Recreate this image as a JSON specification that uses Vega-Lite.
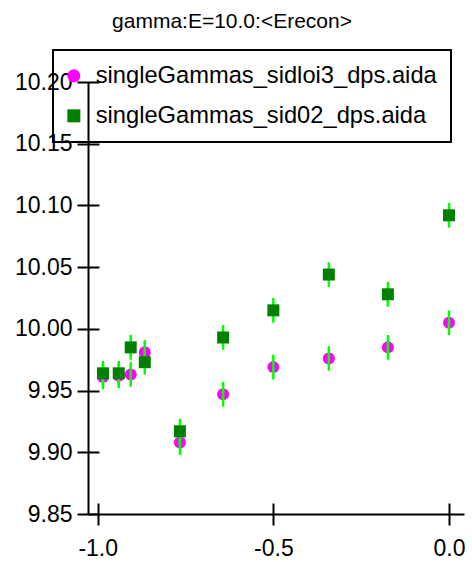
{
  "$schema": "https://vega.github.io/schema/vega-lite/v6.json",
  "width": 376,
  "height": 432,
  "autosize": "none",
  "padding": {"left": 88, "top": 82, "right": 8, "bottom": 48},
  "title": {
    "text": "gamma:E=10.0:<Erecon>",
    "fontSize": 21,
    "fontWeight": "normal",
    "font": "Liberation Sans",
    "color": "black",
    "anchor": "middle",
    "frame": "group",
    "dx": -44,
    "offset": 17
  },
  "data": {
    "values": [
      {"cosTheta": -0.985, "Erecon": 9.961, "err": 0.010, "file": "singleGammas_sidloi3_dps.aida"},
      {"cosTheta": -0.940, "Erecon": 9.962, "err": 0.010, "file": "singleGammas_sidloi3_dps.aida"},
      {"cosTheta": -0.906, "Erecon": 9.963, "err": 0.010, "file": "singleGammas_sidloi3_dps.aida"},
      {"cosTheta": -0.866, "Erecon": 9.981, "err": 0.010, "file": "singleGammas_sidloi3_dps.aida"},
      {"cosTheta": -0.766, "Erecon": 9.908, "err": 0.010, "file": "singleGammas_sidloi3_dps.aida"},
      {"cosTheta": -0.643, "Erecon": 9.947, "err": 0.010, "file": "singleGammas_sidloi3_dps.aida"},
      {"cosTheta": -0.500, "Erecon": 9.969, "err": 0.010, "file": "singleGammas_sidloi3_dps.aida"},
      {"cosTheta": -0.342, "Erecon": 9.976, "err": 0.010, "file": "singleGammas_sidloi3_dps.aida"},
      {"cosTheta": -0.174, "Erecon": 9.985, "err": 0.010, "file": "singleGammas_sidloi3_dps.aida"},
      {"cosTheta": 0.000, "Erecon": 10.005, "err": 0.010, "file": "singleGammas_sidloi3_dps.aida"},
      {"cosTheta": -0.985, "Erecon": 9.964, "err": 0.010, "file": "singleGammas_sid02_dps.aida"},
      {"cosTheta": -0.940, "Erecon": 9.964, "err": 0.010, "file": "singleGammas_sid02_dps.aida"},
      {"cosTheta": -0.906, "Erecon": 9.985, "err": 0.010, "file": "singleGammas_sid02_dps.aida"},
      {"cosTheta": -0.866, "Erecon": 9.973, "err": 0.010, "file": "singleGammas_sid02_dps.aida"},
      {"cosTheta": -0.766, "Erecon": 9.917, "err": 0.010, "file": "singleGammas_sid02_dps.aida"},
      {"cosTheta": -0.643, "Erecon": 9.993, "err": 0.010, "file": "singleGammas_sid02_dps.aida"},
      {"cosTheta": -0.500, "Erecon": 10.015, "err": 0.010, "file": "singleGammas_sid02_dps.aida"},
      {"cosTheta": -0.342, "Erecon": 10.044, "err": 0.010, "file": "singleGammas_sid02_dps.aida"},
      {"cosTheta": -0.174, "Erecon": 10.028, "err": 0.010, "file": "singleGammas_sid02_dps.aida"},
      {"cosTheta": 0.000, "Erecon": 10.092, "err": 0.010, "file": "singleGammas_sid02_dps.aida"}
    ]
  },
  "layer": [
    {
      "transform": [{"filter": "datum.file === 'singleGammas_sidloi3_dps.aida'"}],
      "mark": {"type": "point", "filled": true, "opacity": 1, "strokeWidth": 0},
      "encoding": {
        "x": {
          "field": "cosTheta", "type": "quantitative",
          "scale": {"domain": [-1.0276, 0.0427], "nice": false, "zero": false},
          "axis": {"orient": "bottom", "domain": true, "domainColor": "black", "domainWidth": 2, "ticks": false, "labels": false, "grid": false, "title": null}
        },
        "y": {
          "field": "Erecon", "type": "quantitative",
          "scale": {"domain": [9.85, 10.2], "nice": false, "zero": false},
          "axis": {"orient": "left", "domain": true, "domainColor": "black", "domainWidth": 2, "ticks": false, "labels": false, "grid": false, "title": null}
        },
        "color": {
          "field": "file", "type": "nominal",
          "scale": {"domain": ["singleGammas_sidloi3_dps.aida", "singleGammas_sid02_dps.aida"], "range": ["#ff00ff", "#008000"]},
          "legend": {
            "title": null,
            "orient": "none",
            "legendX": -35,
            "legendY": -32,
            "strokeColor": "black",
            "padding": 14,
            "labelFont": "Liberation Sans",
            "labelFontSize": 23.7,
            "labelColor": "black",
            "labelOffset": 10,
            "labelLimit": 500,
            "rowPadding": 15,
            "symbolSize": 169,
            "symbolOffset": -5,
            "symbolStrokeWidth": 0,
            "labelExpr": "datum.label + '\u00a0\u00a0\u00a0\u00a0'"
          }
        },
        "shape": {
          "field": "file", "type": "nominal",
          "scale": {"domain": ["singleGammas_sidloi3_dps.aida", "singleGammas_sid02_dps.aida"], "range": ["circle", "square"]},
          "legend": {"title": null}
        },
        "size": {"value": 144}
      }
    },
    {
      "mark": {"type": "errorbar", "ticks": false, "color": "#00ff00", "thickness": 2.5},
      "encoding": {
        "x": {"field": "cosTheta", "type": "quantitative", "axis": null},
        "y": {"field": "Erecon", "type": "quantitative", "axis": null},
        "yError": {"field": "err"}
      }
    },
    {
      "transform": [{"filter": "datum.file === 'singleGammas_sid02_dps.aida'"}],
      "mark": {"type": "point", "filled": true, "opacity": 1, "strokeWidth": 0},
      "encoding": {
        "x": {
          "field": "cosTheta", "type": "quantitative",
          "axis": {
            "orient": "bottom", "offset": -11, "domain": false, "grid": false, "title": null,
            "values": [-1, -0.5, 0], "tickSize": 22, "tickWidth": 2, "tickColor": "black",
            "labelFont": "Liberation Sans", "labelFontSize": 23, "labelColor": "black", "labelPadding": 12,
            "labelExpr": "datum.value < 0 ? '-' + format(-datum.value, '.1f') : format(datum.value, '.1f')"
          }
        },
        "y": {
          "field": "Erecon", "type": "quantitative",
          "axis": {
            "orient": "left", "offset": -11, "domain": false, "grid": false, "title": null,
            "values": [9.85, 9.9, 9.95, 10.0, 10.05, 10.1, 10.15, 10.2], "tickSize": 22, "tickWidth": 2, "tickColor": "black",
            "labelFont": "Liberation Sans", "labelFontSize": 23, "labelColor": "black", "labelPadding": 5, "format": ".2f"
          }
        },
        "color": {"field": "file", "type": "nominal"},
        "shape": {"field": "file", "type": "nominal"},
        "size": {"value": 144}
      }
    }
  ],
  "resolve": {"axis": {"x": "independent", "y": "independent"}},
  "config": {
    "font": "Liberation Sans",
    "view": {"stroke": null},
    "legend": {"strokeWidth": 2}
  }
}
